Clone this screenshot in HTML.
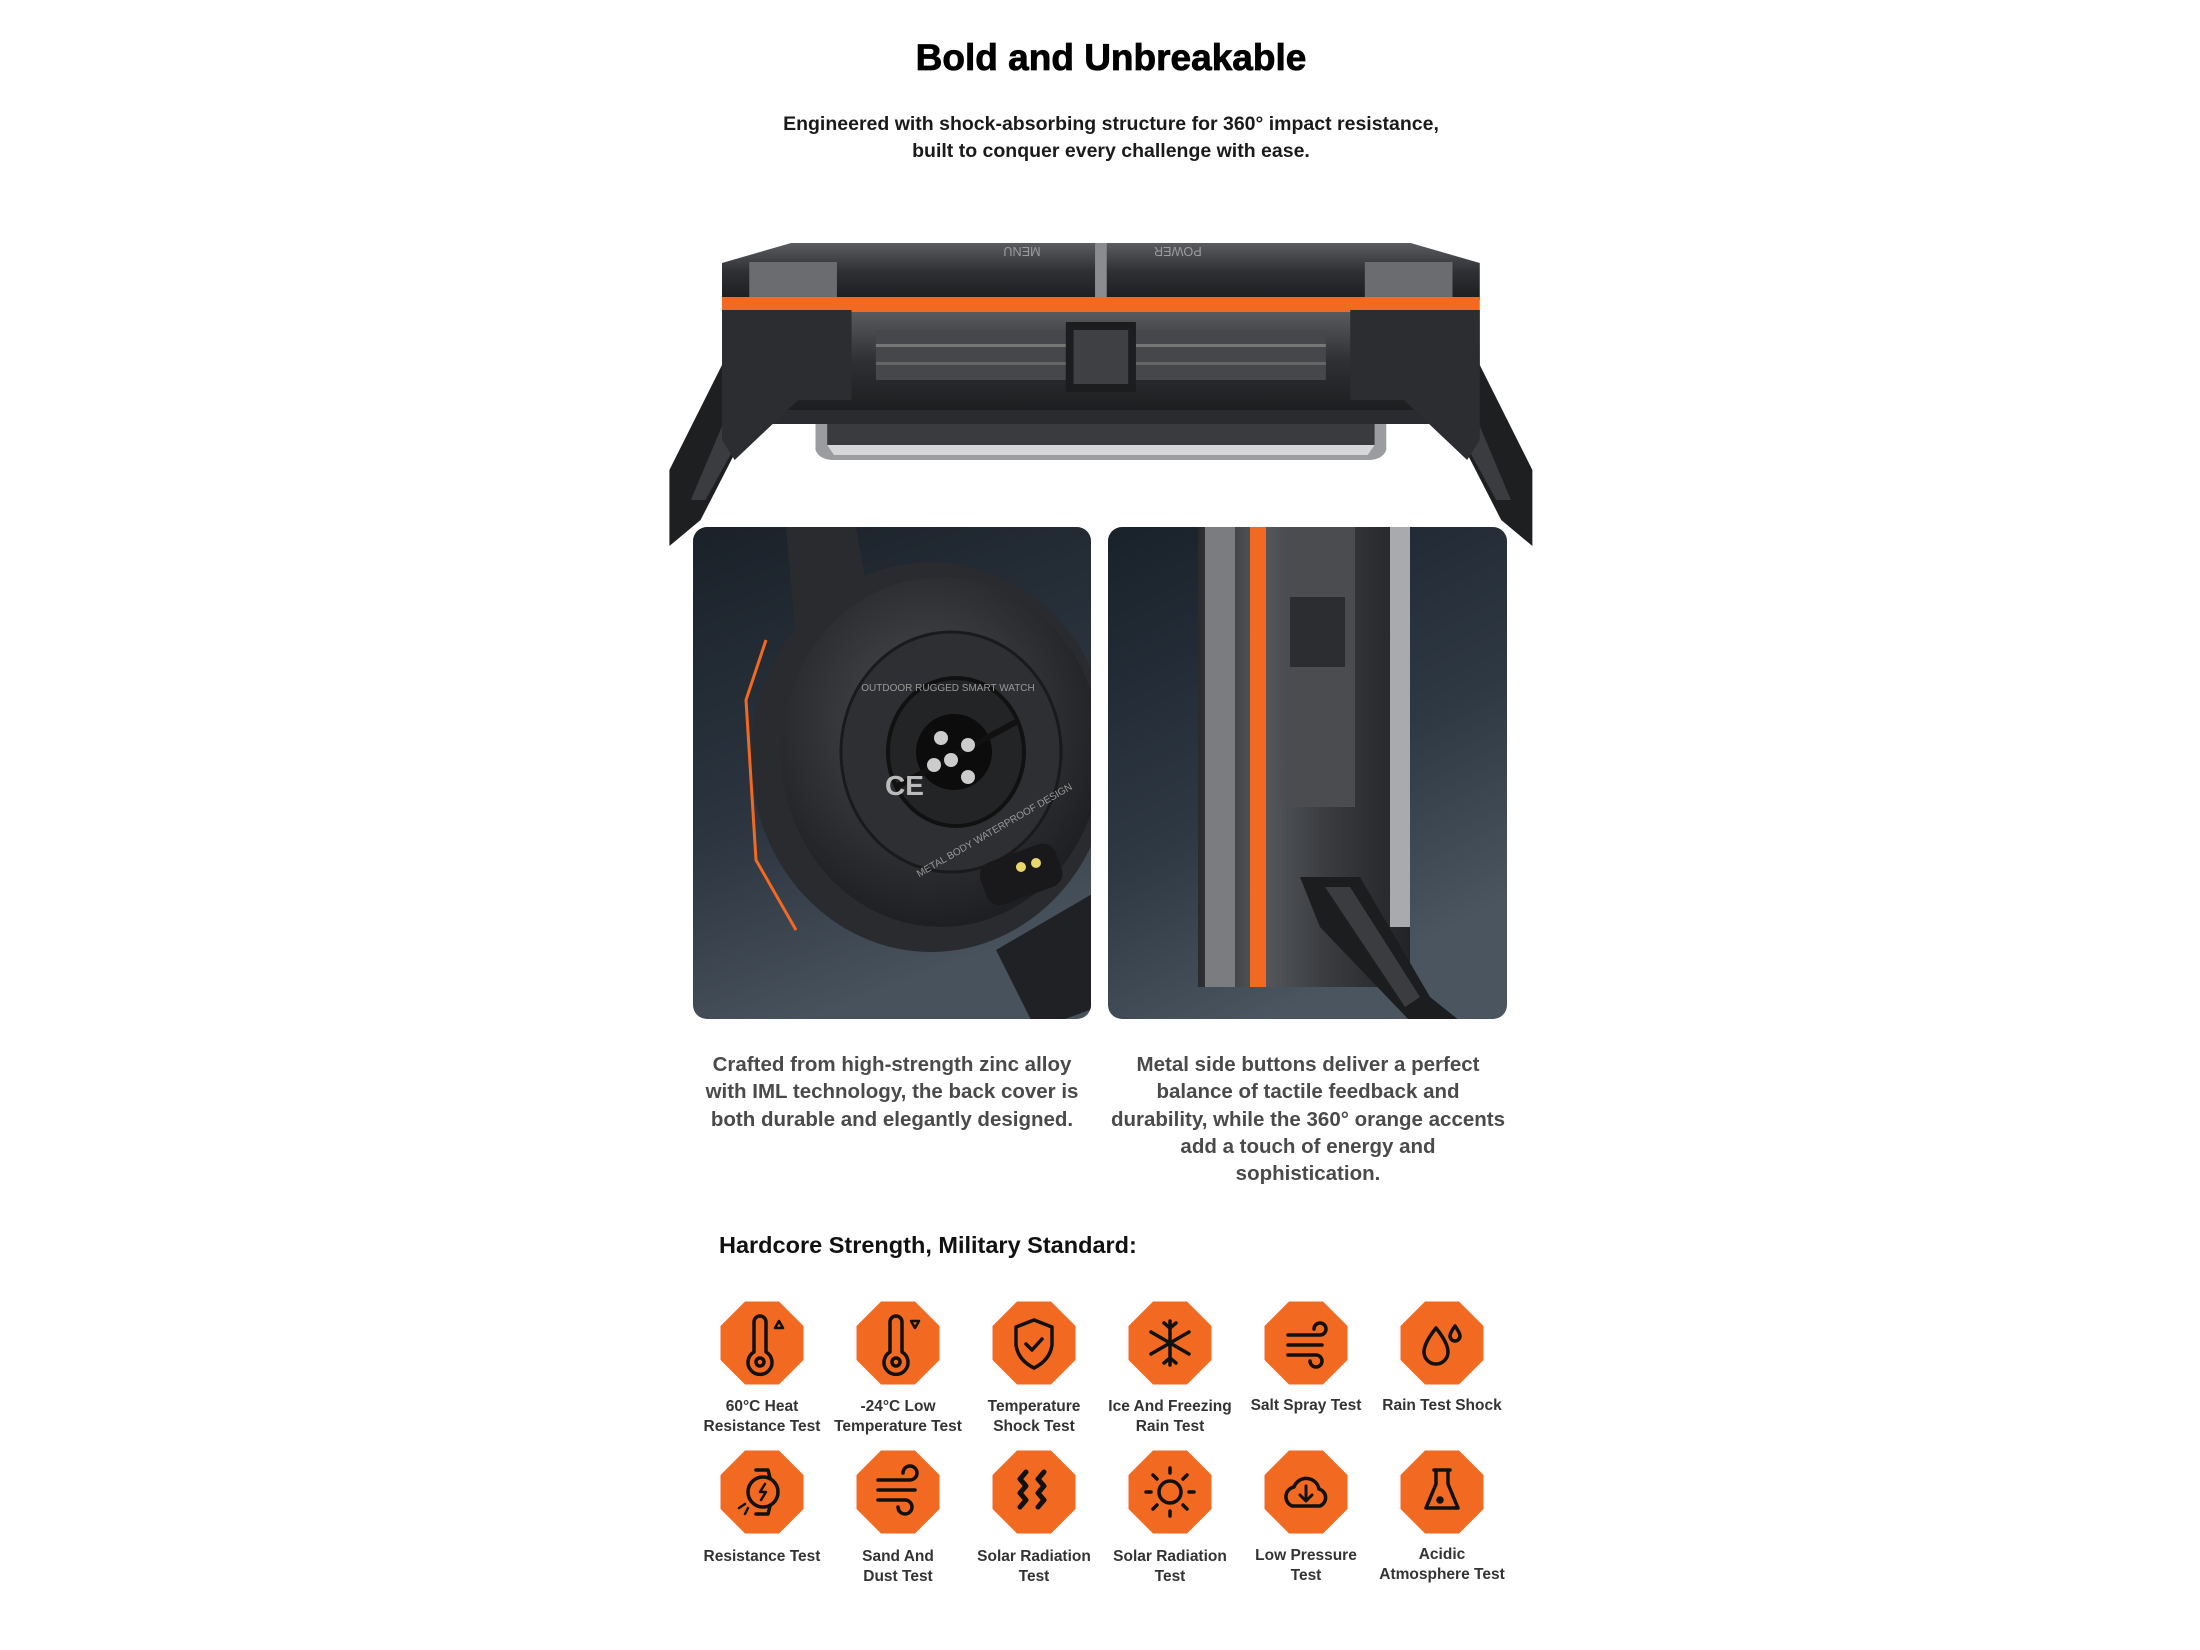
<!DOCTYPE html>
<html><head><meta charset="utf-8"><style>
html,body{margin:0;padding:0;background:#fff;}
svg{display:block}
text{font-family:"Liberation Sans",sans-serif}
</style></head><body>
<svg width="2200" height="1650" viewBox="0 0 2200 1650" xmlns="http://www.w3.org/2000/svg">
<defs>
<linearGradient id="metal" x1="0" y1="0" x2="0" y2="1">
<stop offset="0" stop-color="#5a5c60"/><stop offset="0.5" stop-color="#2e3033"/><stop offset="1" stop-color="#1c1d1f"/>
</linearGradient>
<linearGradient id="metalH" x1="0" y1="0" x2="1" y2="0">
<stop offset="0" stop-color="#2a2b2e"/><stop offset="0.3" stop-color="#55585c"/><stop offset="0.6" stop-color="#3a3c40"/><stop offset="1" stop-color="#222326"/>
</linearGradient>
<linearGradient id="bg1" x1="0" y1="0" x2="0.3" y2="1">
<stop offset="0" stop-color="#1a2129"/><stop offset="0.6" stop-color="#2c3540"/><stop offset="1" stop-color="#48525c"/>
</linearGradient>
<linearGradient id="bg2" x1="0" y1="0" x2="0.4" y2="1">
<stop offset="0" stop-color="#19212a"/><stop offset="0.6" stop-color="#2e3843"/><stop offset="1" stop-color="#4b5560"/>
</linearGradient>
<radialGradient id="back" cx="0.45" cy="0.4" r="0.6">
<stop offset="0" stop-color="#4a4c50"/><stop offset="1" stop-color="#1e1f22"/>
</radialGradient>
<clipPath id="c1"><rect x="693" y="527" width="398" height="492" rx="14"/></clipPath>
<clipPath id="c2"><rect x="1108" y="527" width="399" height="492" rx="14"/></clipPath>
<g id="oct"><polygon points="-17,-41.5 17,-41.5 41.5,-17 41.5,17 17,41.5 -17,41.5 -41.5,17 -41.5,-17" fill="#f26a21"/></g>
</defs>

<!-- Title -->
<text x="1111" y="70" text-anchor="middle" font-size="37" font-weight="900" fill="#000" stroke="#000" stroke-width="0.8">Bold and Unbreakable</text>
<text x="1111" y="130" text-anchor="middle" font-size="19.5" font-weight="bold" fill="#1a1a1a">Engineered with shock-absorbing structure for 360° impact resistance,</text>
<text x="1111" y="157" text-anchor="middle" font-size="19.5" font-weight="bold" fill="#1a1a1a">built to conquer every challenge with ease.</text>

<!-- Top watch -->
<g transform="translate(722,0) scale(0.974,1) translate(-722,0)">
<polygon points="740,330 800,330 700,520 668,546 668,470" fill="#1e1f21"/>
<polygon points="755,350 790,350 705,500 690,500" fill="#3a3c3f"/>
<polygon points="1482,330 1422,330 1522,520 1554,546 1554,470" fill="#1e1f21"/>
<polygon points="1467,350 1432,350 1517,500 1532,500" fill="#3a3c3f"/>
<path d="M818,410 L1404,410 L1404,450 Q1400,460 1385,460 L837,460 Q822,460 818,450 Z" fill="#9a9c9f"/>
<path d="M830,410 L1392,410 L1392,445 L830,445 Z" fill="#3a3b3e"/>
<path d="M830,445 L1392,445 L1385,455 L837,455 Z" fill="#d6d7d9"/>
<rect x="722" y="310" width="778" height="102" fill="url(#metal)"/>
<rect x="760" y="410" width="702" height="14" fill="#2a2b2e"/>
<polygon points="793,243 1429,243 1500,263 1500,300 722,300 722,263" fill="url(#metal)"/>
<rect x="750" y="262" width="90" height="38" fill="#6a6c70"/>
<rect x="1382" y="262" width="90" height="38" fill="#6a6c70"/>
<text x="1030" y="257" text-anchor="middle" font-size="13" fill="#9a9ca0" transform="rotate(180 1030 252)">MENU</text>
<text x="1190" y="257" text-anchor="middle" font-size="13" fill="#9a9ca0" transform="rotate(180 1190 252)">POWER</text>
<rect x="1105" y="243" width="12" height="57" fill="#8a8c90"/>
<rect x="722" y="297" width="778" height="15" fill="#f26a21"/>
<rect x="880" y="330" width="195" height="50" fill="#45474b"/>
<rect x="1147" y="330" width="195" height="50" fill="#45474b"/>
<rect x="880" y="344" width="195" height="3" fill="#777"/>
<rect x="1147" y="344" width="195" height="3" fill="#777"/>
<rect x="880" y="362" width="195" height="3" fill="#666"/>
<rect x="1147" y="362" width="195" height="3" fill="#666"/>
<rect x="1075" y="322" width="72" height="70" fill="#1c1d1f"/>
<rect x="1083" y="330" width="56" height="54" fill="#3e4044"/>
<polygon points="722,310 855,310 855,400 800,400 735,460 722,440" fill="#2c2d30"/>
<polygon points="1500,310 1367,310 1367,400 1422,400 1487,460 1500,440" fill="#2c2d30"/>
</g>

<!-- Left panel -->
<rect x="693" y="527" width="398" height="492" rx="14" fill="url(#bg1)"/>
<g clip-path="url(#c1)">
<polygon points="786,527 856,527 876,640 796,640" fill="#2a2b2e"/>
<polygon points="996,950 1116,880 1116,1000 1036,1030" fill="#202124"/>
<ellipse cx="931" cy="757" rx="180" ry="195" fill="#2a2b2e"/>
<ellipse cx="941" cy="752" rx="160" ry="175" fill="url(#back)"/>
<path d="M766,640 L746,700 L756,860 L796,930" stroke="#f26a21" stroke-width="3" fill="none"/>
<ellipse cx="951" cy="752" rx="110" ry="120" fill="#2e2f32" stroke="#1a1a1c" stroke-width="3"/>
<ellipse cx="956" cy="752" rx="68" ry="74" fill="#232426" stroke="#111" stroke-width="4"/>
<circle cx="954" cy="752" r="38" fill="#0c0c0d"/>
<line x1="896" y1="787" x2="1016" y2="722" stroke="#111" stroke-width="6"/>
<circle cx="941" cy="738" r="7" fill="#ccc"/><circle cx="968" cy="745" r="7" fill="#ccc"/><circle cx="951" cy="760" r="7" fill="#ccc"/><circle cx="934" cy="765" r="7" fill="#ccc"/><circle cx="968" cy="777" r="7" fill="#ccc"/>
<text x="885" y="795" font-size="28" fill="#bbb" font-weight="bold">CE</text>
<rect x="981" y="852" width="80" height="45" rx="14" fill="#19191b" transform="rotate(-20 1021 874)"/>
<circle cx="1021" cy="867" r="5" fill="#e8d76a"/><circle cx="1036" cy="863" r="5" fill="#e8d76a"/>
<text x="948" y="691" text-anchor="middle" font-size="10" fill="#999">OUTDOOR RUGGED SMART WATCH</text>
<text x="996" y="833" text-anchor="middle" font-size="10" fill="#999" transform="rotate(-30 996 833)">METAL BODY WATERPROOF DESIGN</text>
</g>

<!-- Right panel -->
<rect x="1108" y="527" width="399" height="492" rx="14" fill="url(#bg2)"/>
<g clip-path="url(#c2)">
<rect x="1198" y="527" width="212" height="460" fill="url(#metalH)"/>
<rect x="1205" y="527" width="30" height="460" fill="#7a7c80"/>
<rect x="1285" y="527" width="70" height="280" fill="#4a4c50"/>
<rect x="1290" y="597" width="55" height="70" fill="#2c2d30"/>
<rect x="1390" y="527" width="20" height="400" fill="#a8aaad"/>
<rect x="1250" y="527" width="16" height="460" fill="#f26a21"/>
<polygon points="1300,877 1360,877 1430,997 1460,1021 1410,1021 1320,927" fill="#1c1d1f"/>
<polygon points="1325,887 1350,887 1420,997 1405,1007" fill="#3a3c3f"/>
</g>

<!-- captions -->
<g font-size="20.5" font-weight="bold" fill="#4a4a4a" text-anchor="middle">
<text x="892" y="1071">Crafted from high-strength zinc alloy</text>
<text x="892" y="1098">with IML technology, the back cover is</text>
<text x="892" y="1126">both durable and elegantly designed.</text>
<text x="1308" y="1071">Metal side buttons deliver a perfect</text>
<text x="1308" y="1098">balance of tactile feedback and</text>
<text x="1308" y="1126">durability, while the 360° orange accents</text>
<text x="1308" y="1153">add a touch of energy and</text>
<text x="1308" y="1180">sophistication.</text>
</g>

<text x="719" y="1253" font-size="23.5" font-weight="bold" fill="#111">Hardcore Strength, Military Standard:</text>

<g>
<use href="#oct" x="762" y="1343"/><use href="#oct" x="898" y="1343"/><use href="#oct" x="1034" y="1343"/>
<use href="#oct" x="1170" y="1343"/><use href="#oct" x="1306" y="1343"/><use href="#oct" x="1442" y="1343"/>
<use href="#oct" x="762" y="1492"/><use href="#oct" x="898" y="1492"/><use href="#oct" x="1034" y="1492"/>
<use href="#oct" x="1170" y="1492"/><use href="#oct" x="1306" y="1492"/><use href="#oct" x="1442" y="1492"/>
</g>
<g fill="none" stroke="#111" stroke-width="3.5" stroke-linecap="round" stroke-linejoin="round">
<path d="M754,1352 V1322 a6,6 0 0 1 12,0 V1352 a12,12 0 1 1 -12,0 Z"/><circle cx="760" cy="1362" r="4"/>
<path d="M775,1328 l4,-7 l4,7 Z" stroke-width="2.5"/>
<path d="M890,1352 V1322 a6,6 0 0 1 12,0 V1352 a12,12 0 1 1 -12,0 Z"/><circle cx="896" cy="1362" r="4"/>
<path d="M911,1321 l4,7 l4,-7 Z" stroke-width="2.5"/>
<path d="M1034,1320 L1052,1327 V1345 Q1050,1360 1034,1368 Q1018,1360 1016,1345 V1327 Z"/><path d="M1026,1344 l6,6 l10,-11"/>
<path d="M1170,1321 V1365 M1151,1332 L1189,1354 M1151,1354 L1189,1332 M1164,1323 l6,5 l6,-5 M1164,1363 l6,-5 l6,5"/>
<path d="M1288,1335 H1320 a6,6 0 1 0 -6,-6 M1288,1345 H1322 M1288,1355 H1316 a6,6 0 1 1 -6,6"/>
<path d="M1436,1328 Q1424,1343 1424,1352 a12,12 0 0 0 24,0 Q1448,1343 1436,1328 Z"/><path d="M1455,1326 q-5,7 -5,10 a5,5 0 0 0 10,0 q0,-3 -5,-10 Z"/>
<path d="M756,1470 h12 l2,8 M756,1514 h12 l2,-8"/><circle cx="763" cy="1492" r="15"/><path d="M765,1484 l-5,8 h6 l-5,8" stroke-width="2.5"/><path d="M745,1504 l-6,4 M748,1508 l-3,6" stroke-width="2.5"/>
<path d="M878,1480 H910 a7,7 0 1 0 -7,-7 M878,1490 H915 M878,1500 H905 a7,7 0 1 1 -7,7"/>
<path d="M1026,1472 l-6,7 l6,7 l-6,7 l6,7 l-6,7 M1044,1472 l-6,7 l6,7 l-6,7 l6,7 l-6,7" stroke-width="5"/>
<circle cx="1170" cy="1492" r="11"/><path d="M1170,1468 v5 M1170,1511 v5 M1146,1492 h5 M1189,1492 h5 M1153,1475 l4,4 M1183,1505 l4,4 M1187,1475 l-4,4 M1157,1505 l-4,4"/>
<path d="M1292,1506 a10,10 0 0 1 2,-19 a13,13 0 0 1 25,2 a9,9 0 0 1 1,17 Z"/><path d="M1306,1486 v14 M1300,1495 l6,6 l6,-6" stroke-width="3"/>
<path d="M1434,1470 h16 M1436,1470 v14 l-10,24 h32 l-10,-24 v-14"/><circle cx="1440" cy="1500" r="2" fill="#111"/>
</g>
<g font-size="15.5" font-weight="bold" fill="#333" text-anchor="middle">
<text x="762" y="1411">60°C Heat</text><text x="762" y="1431">Resistance Test</text>
<text x="898" y="1411">-24°C Low</text><text x="898" y="1431">Temperature Test</text>
<text x="1034" y="1411">Temperature</text><text x="1034" y="1431">Shock Test</text>
<text x="1170" y="1411">Ice And Freezing</text><text x="1170" y="1431">Rain Test</text>
<text x="1306" y="1410">Salt Spray Test</text>
<text x="1442" y="1410">Rain Test Shock</text>
<text x="762" y="1561">Resistance Test</text>
<text x="898" y="1561">Sand And</text><text x="898" y="1581">Dust Test</text>
<text x="1034" y="1561">Solar Radiation</text><text x="1034" y="1581">Test</text>
<text x="1170" y="1561">Solar Radiation</text><text x="1170" y="1581">Test</text>
<text x="1306" y="1560">Low Pressure</text><text x="1306" y="1580">Test</text>
<text x="1442" y="1559">Acidic</text><text x="1442" y="1579">Atmosphere Test</text>
</g>
</svg>
</body></html>
